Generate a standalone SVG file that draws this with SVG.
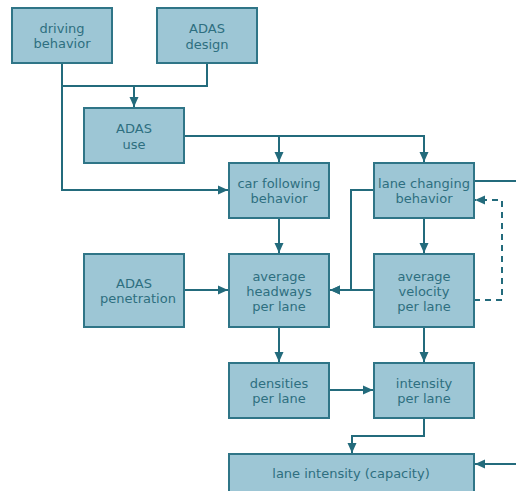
<svg xmlns="http://www.w3.org/2000/svg" width="516" height="491" viewBox="0 0 516 491">
<defs>
<style>
.box{fill:#9DC6D5;stroke:#2F7587;stroke-width:2}
.t{font-family:"DejaVu Sans",Verdana,sans-serif;font-size:13px;fill:#2E6F80;text-anchor:middle}
.c{fill:none;stroke:#236B7C;stroke-width:2}
.d{stroke-dasharray:6,5}
</style>
<marker id="ah" viewBox="0 0 10 10" refX="10" refY="5" markerWidth="10" markerHeight="10" orient="auto" markerUnits="userSpaceOnUse">
<path d="M0,0.5 L10,5 L0,9.5 z" fill="#236B7C"/>
</marker>
</defs>
<rect width="516" height="491" fill="#ffffff"/>
<g id="connectors">
<path class="c" d="M62,63 V190 H228" marker-end="url(#ah)"/>
<path class="c" d="M207,63 V86 H62"/>
<path class="c" d="M134,86 V107" marker-end="url(#ah)"/>
<path class="c" d="M184,136 H424 V162" marker-end="url(#ah)"/>
<path class="c" d="M279,136 V162" marker-end="url(#ah)"/>
<path class="c" d="M279,218 V253" marker-end="url(#ah)"/>
<path class="c" d="M424,218 V253" marker-end="url(#ah)"/>
<path class="c" d="M374,190 H351 V290 H330" marker-end="url(#ah)"/>
<path class="c" d="M374,290 H330" marker-end="url(#ah)"/>
<path class="c" d="M474,181 H516"/>
<path class="c d" d="M474,300 H502 V200 H475" marker-end="url(#ah)"/>
<path class="c" d="M184,290 H228" marker-end="url(#ah)"/>
<path class="c" d="M279,327 V362" marker-end="url(#ah)"/>
<path class="c" d="M424,327 V362" marker-end="url(#ah)"/>
<path class="c" d="M329,390 H373" marker-end="url(#ah)"/>
<path class="c" d="M424,418 V436 H352 V453" marker-end="url(#ah)"/>
<path class="c" d="M516,464 H475" marker-end="url(#ah)"/>
</g>
<g id="driving-behavior"><rect class="box" x="12" y="8" width="100" height="55"/><text class="t" x="62" y="33">driving</text><text class="t" x="62" y="48">behavior</text></g>
<g id="adas-design"><rect class="box" x="157" y="8" width="100" height="55"/><text class="t" x="207" y="33">ADAS</text><text class="t" x="207" y="49">design</text></g>
<g id="adas-use"><rect class="box" x="84" y="108" width="100" height="55"/><text class="t" x="134" y="133">ADAS</text><text class="t" x="134" y="149">use</text></g>
<g id="car-following"><rect class="box" x="229" y="163" width="100" height="55"/><text class="t" x="279" y="188">car following</text><text class="t" x="279" y="203">behavior</text></g>
<g id="lane-changing"><rect class="box" x="374" y="163" width="100" height="55"/><text class="t" x="424" y="188">lane changing</text><text class="t" x="424" y="203">behavior</text></g>
<g id="adas-penetration"><rect class="box" x="84" y="254" width="100" height="73"/><text class="t" x="134" y="288">ADAS</text><text class="t" x="138" y="303">penetration</text></g>
<g id="average-headways"><rect class="box" x="229" y="254" width="100" height="73"/><text class="t" x="279" y="281">average</text><text class="t" x="279" y="296">headways</text><text class="t" x="279" y="311">per lane</text></g>
<g id="average-velocity"><rect class="box" x="374" y="254" width="100" height="73"/><text class="t" x="424" y="281">average</text><text class="t" x="424" y="296">velocity</text><text class="t" x="424" y="311">per lane</text></g>
<g id="densities"><rect class="box" x="229" y="363" width="100" height="55"/><text class="t" x="279" y="388">densities</text><text class="t" x="279" y="403">per lane</text></g>
<g id="intensity"><rect class="box" x="374" y="363" width="100" height="55"/><text class="t" x="424" y="388">intensity</text><text class="t" x="424" y="403">per lane</text></g>
<g id="lane-intensity"><rect class="box" x="229" y="454" width="245" height="55"/><text class="t" x="351" y="478">lane intensity (capacity)</text></g>
</svg>
